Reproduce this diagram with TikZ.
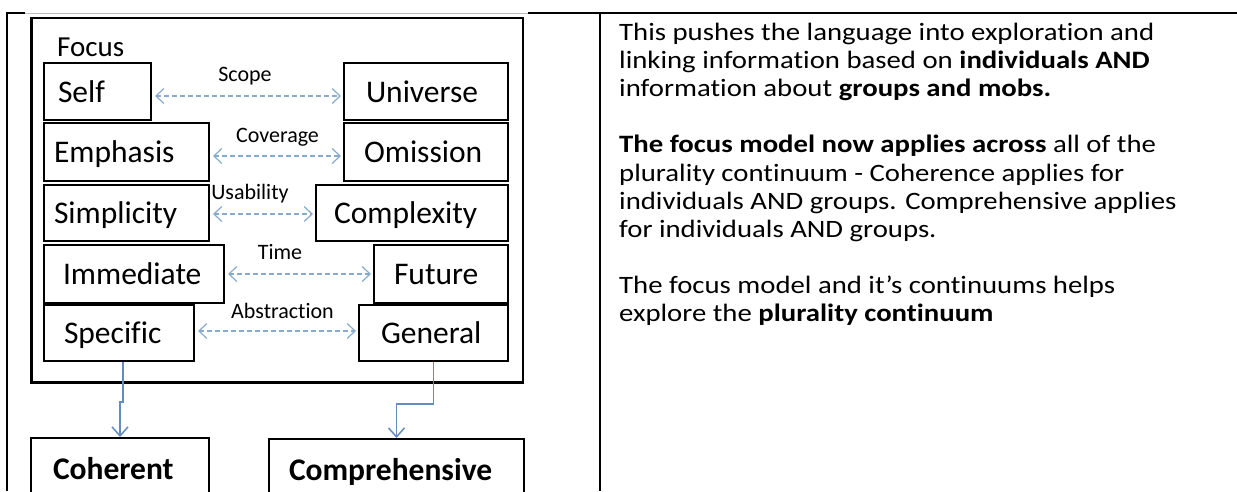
\documentclass[tikz,border=0pt]{standalone}
\usepackage{fontspec}
\setmainfont{Carlito}[Ligatures=NoCommon]
\newfontfamily\rtxt{Carlito}[FakeStretch=1.15,Ligatures=NoCommon]
\usetikzlibrary{arrows.meta}
\definecolor{dashblue}{RGB}{135,170,205}
\definecolor{connblue}{RGB}{100,140,190}
\begin{document}
\begin{tikzpicture}[x=1pt,y=-1pt,
  tableline/.style={draw=black, line width=2pt},
  fbox/.style={draw=black, line width=2pt, inner ysep=0pt, minimum height=57pt,
    text height=21pt, text depth=0pt, align=left, anchor=north west,
    font=\fontsize{31.5}{36}\selectfont},
  bbox/.style={draw=black, line width=2pt, inner ysep=0pt,
    text height=41pt, text depth=60pt, align=left, anchor=north west,
    font=\bfseries\fontsize{31.5}{36}\selectfont},
  lbl/.style={font=\fontsize{22}{26}\selectfont, anchor=base, inner sep=0pt},
  dasharrow/.style={draw=dashblue, line width=1.2pt, dash pattern=on 5pt off 3pt,
    {Straight Barb[length=8pt,width=15pt]}-{Straight Barb[length=8pt,width=15pt]},
    shorten <=3pt, shorten >=2pt},
  conn/.style={draw=connblue, line width=1.5pt, -{Straight Barb[length=9pt,width=16pt]}},
  rt/.style={anchor=base west, inner sep=0pt, font=\rtxt\fontsize{25}{28}\selectfont}
]
\useasboundingbox (0,0) rectangle (1237,491);
\clip (0,0) rectangle (1237,491);

% table lines
\draw[tableline] (7,491) -- (7,13) -- (25,13);
\draw[tableline] (528,13) -- (1237,13);
\draw[draw=black!25, line width=1pt] (25,13) -- (528,13);
\draw[tableline] (600,13) -- (600,491);

% focus frame
\node[draw=black, line width=2.5pt, minimum width=491.5pt, minimum height=364.5pt,
  anchor=north west, inner sep=0pt] (frame) at (30,16.5) {};
\node[anchor=base west, inner sep=0pt, font=\fontsize{29}{34}\selectfont] (focus) at (57,56) {Focus};

% boxes
\node[fbox, text width=79pt, inner xsep=14pt] (self) at (43,62) {Self};
\node[fbox, text width=120pt, inner xsep=22pt] (universe) at (343,62) {Universe};
\node[fbox, minimum height=58pt, text width=145pt, inner xsep=10pt] (emphasis) at (43,122) {Emphasis};
\node[fbox, minimum height=58pt, text width=124pt, inner xsep=20pt] (omission) at (343,122) {Omission};
\node[fbox, minimum height=56pt, text width=145pt, inner xsep=10pt] (simplicity) at (43,184) {Simplicity};
\node[fbox, minimum height=56pt, text width=156pt, inner xsep=18pt] (complexity) at (315,184) {Complexity};
\node[fbox, minimum height=58pt, text width=142pt, inner xsep=19pt] (immediate) at (43,244) {Immediate};
\node[fbox, minimum height=58pt, text width=94pt, inner xsep=20pt] (future) at (373,244) {Future};
\node[fbox, minimum height=56pt, text width=110pt, inner xsep=20pt] (specific) at (43,304) {Specific};
\node[fbox, minimum height=56pt, text width=105pt, inner xsep=22pt] (general) at (358,304) {General};

\node[bbox, text width=134pt, inner xsep=22pt] (coherent) at (30,437) {Coherent};
\node[bbox, text width=215pt, inner xsep=20pt] (comprehensive) at (268,438) {Comprehensive};

% labels
\node[lbl] (scope) at (245,81) {Scope};
\node[lbl] (coverage) at (277.5,142) {Coverage};
\node[lbl] (usability) at (250,199) {Usability};
\node[lbl] (time) at (280,259) {Time};
\node[lbl] (abstraction) at (282.5,318) {Abstraction};

% dashed double arrows
\draw[dasharrow] ([yshift=-4.5pt]self.east) -- ([yshift=-4.5pt]self.east -| universe.west);
\draw[dasharrow] ([yshift=-4pt]emphasis.east) -- ([yshift=-4pt]emphasis.east -| omission.west);
\draw[dasharrow] ([yshift=-1pt]simplicity.east) -- ([yshift=-1pt]simplicity.east -| complexity.west);
\draw[dasharrow] (immediate.east) -- (immediate.east -| future.west);
\draw[dasharrow] ([yshift=2pt]specific.east) -- ([yshift=2pt]specific.east -| general.west);

% connectors
\draw[conn] ([xshift=4pt]specific.south) -- ++(0,40) -| (coherent.north);
\draw[conn] (general.south) -- ++(0,42) -| (comprehensive.north);

% right text
\node[rt] (l1) at (619,40.5) {This pushes the language into exploration and};
\node[rt] (l2) at (619,68.6) {linking information based on \textbf{individuals AND}};
\node[rt] (l3) at (619,96.7) {information about \textbf{groups and mobs.}};
\node[rt] (l5) at (619,152.9) {\textbf{The focus model now applies across} all of the};
\node[rt] (l6) at (619,181) {plurality continuum - Coherence applies for};
\node[rt] (l7) at (619,209.1) {individuals AND groups. Comprehensive applies};
\node[rt] (l8) at (619,237.2) {for individuals AND groups.};
\node[rt] (l10) at (619,293.4) {The focus model and it’s continuums helps};
\node[rt] (l11) at (619,321.5) {explore the \textbf{plurality continuum}};
\end{tikzpicture}
\end{document}
